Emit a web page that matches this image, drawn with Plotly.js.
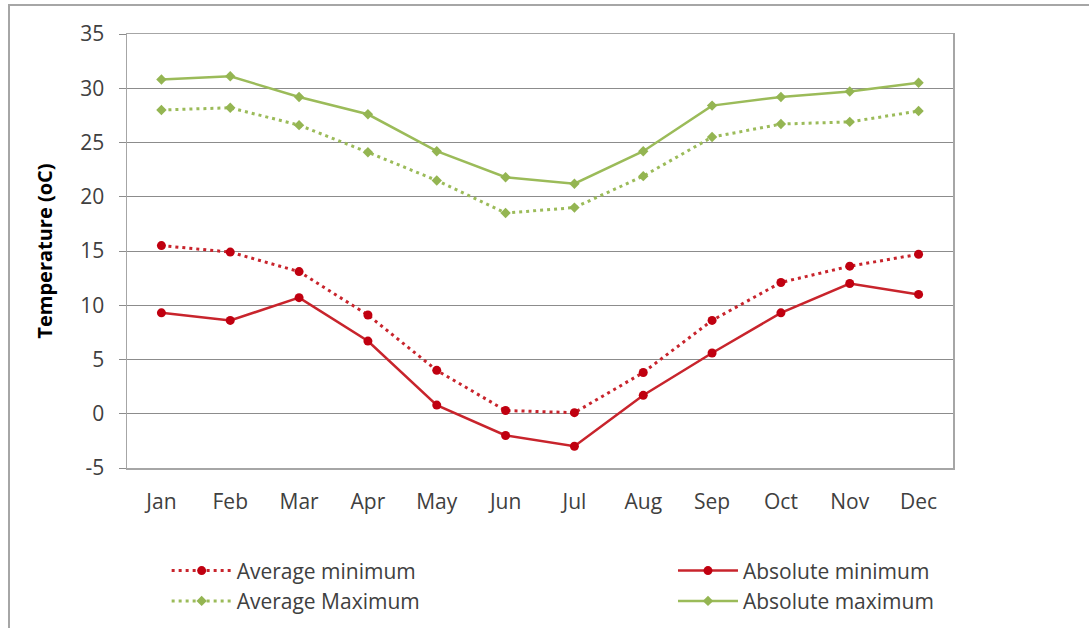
<!DOCTYPE html>
<html>
<head>
<meta charset="utf-8">
<script src="https://cdn.plot.ly/plotly-3.0.1.min.js"></script>
<style>
  html, body { margin: 0; padding: 0; background: #fff; overflow: hidden; }
  #frame { position: absolute; left: 8px; top: 4px; width: 1200px; height: 700px;
           border-left: 2px solid #a6a6a6; border-top: 2px solid #a6a6a6; pointer-events: none; }
  #chart { position: absolute; left: 0; top: 0; width: 1089px; height: 680px; }
</style>
</head>
<body>
<div id="chart"></div>
<div id="frame"></div>
<script>
const months = ["Jan","Feb","Mar","Apr","May","Jun","Jul","Aug","Sep","Oct","Nov","Dec"];
const avgMin = [15.5, 14.9, 13.1, 9.1, 4.0, 0.3, 0.1, 3.8, 8.6, 12.1, 13.6, 14.7];
const absMin = [9.3, 8.6, 10.7, 6.7, 0.8, -2.0, -3.0, 1.7, 5.6, 9.3, 12.0, 11.0];
const avgMax = [28.0, 28.2, 26.6, 24.1, 21.5, 18.5, 19.0, 21.9, 25.5, 26.7, 26.9, 27.9];
const absMax = [30.8, 31.1, 29.2, 27.6, 24.2, 21.8, 21.2, 24.2, 28.4, 29.2, 29.7, 30.5];
const yTicks = [-5, 0, 5, 10, 15, 20, 25, 30, 35];

const RED = "#c8242c";
const RED_M = "#c00010";
const GREEN = "#9bbb59";
const GREEN_M = "#94b552";
const FONT = "'Open Sans', 'Noto Sans', sans-serif";
const TXT = "#404040";

const traces = [
  { x: months, y: avgMin, name: "Average minimum", mode: "lines+markers",
    line: { color: RED, width: 3, dash: "3px,4px" },
    marker: { color: RED_M, size: 9, symbol: "circle" }, legend: "legend", legendgroup: "a" },
  { x: months, y: avgMax, name: "Average Maximum", mode: "lines+markers",
    line: { color: GREEN, width: 3, dash: "3px,4px" },
    marker: { color: GREEN_M, size: 8, symbol: "diamond" }, legend: "legend", legendgroup: "b" },
  { x: months, y: absMin, name: "Absolute minimum", mode: "lines+markers",
    line: { color: RED, width: 2.5 },
    marker: { color: RED_M, size: 9, symbol: "circle" }, legend: "legend2", legendgroup: "c" },
  { x: months, y: absMax, name: "Absolute maximum", mode: "lines+markers",
    line: { color: GREEN, width: 2.5 },
    marker: { color: GREEN_M, size: 8, symbol: "diamond" }, legend: "legend2", legendgroup: "d" }
];

const legendBase = {
  orientation: "v", xanchor: "left", yanchor: "top", y: -0.19,
  font: { family: FONT, size: 21, color: TXT },
  bgcolor: "rgba(0,0,0,0)", itemwidth: 60, tracegroupgap: 2, traceorder: "normal"
};

const layout = {
  width: 1089, height: 680,
  margin: { l: 127, r: 136, t: 34, b: 212 },
  paper_bgcolor: "#fff", plot_bgcolor: "#fff",
  font: { family: FONT, size: 21, color: TXT },
  showlegend: true,
  xaxis: {
    type: "category", range: [-0.5, 11.5],
    showline: true, linecolor: "#a6a6a6", linewidth: 1.5, mirror: true,
    showgrid: false, ticks: "", ticklabelstandoff: 14,
    tickfont: { family: FONT, size: 21, color: TXT }
  },
  yaxis: {
    range: [-5, 35], tickvals: yTicks, ticktext: yTicks.map(String),
    showline: true, linecolor: "#a6a6a6", linewidth: 1.5, mirror: true,
    showgrid: true, gridcolor: "#8c8c8c", gridwidth: 1, zeroline: false,
    ticks: "outside", ticklen: 7, tickcolor: "#8c8c8c", ticklabelstandoff: 10,
    tickfont: { family: FONT, size: 21, color: TXT },
    title: { text: "Temperature (oC)", standoff: 22,
             font: { family: FONT, size: 20, color: "#000", weight: "bold" } }
  },
  legend: Object.assign({}, legendBase, { x: 0.048 }),
  legend2: Object.assign({}, legendBase, { x: 0.661 })
};

Plotly.newPlot("chart", traces, layout, { displayModeBar: false, staticPlot: true });
</script>
</body>
</html>
